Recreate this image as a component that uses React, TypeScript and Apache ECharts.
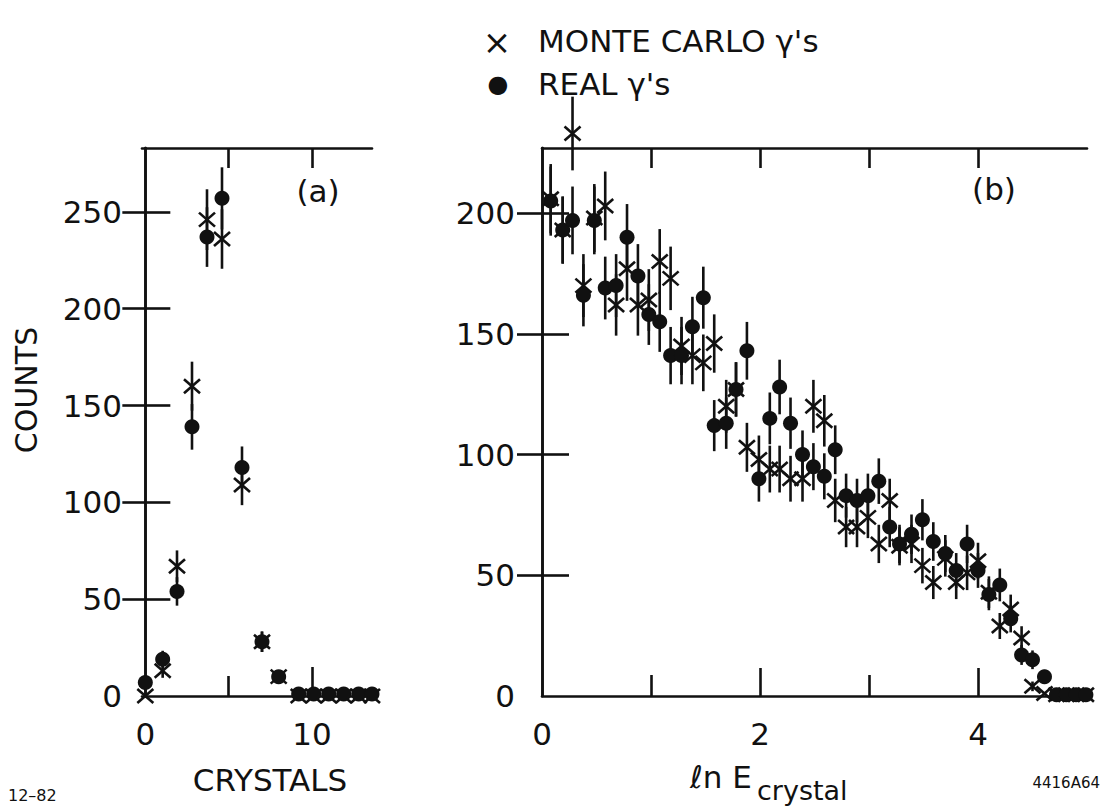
import React, { useEffect, useRef } from "react";
import * as echarts from "echarts";

// ---- Panel (a): counts vs number of crystals ----
const crystals = [0, 1.04, 1.9, 2.8, 3.7, 4.6, 5.8, 7.0, 8.0, 9.2, 10.1, 11.0, 11.9, 12.8, 13.6];
const crystalsMC = [0, 13, 67, 160, 246, 236, 109, 28, 10, 0, 0, 0, 0, 0, 0];
const crystalsReal = [7, 19, 54, 139, 237, 257, 118, 28, 10, 1, 1, 1, 1, 1, 1];

// ---- Panel (b): counts vs ln E_crystal ----
const lnE = [
  0.08, 0.19, 0.28, 0.38, 0.48, 0.58, 0.68, 0.78, 0.88, 0.98,
  1.08, 1.18, 1.28, 1.38, 1.48, 1.58, 1.69, 1.78, 1.88, 1.99,
  2.09, 2.18, 2.28, 2.39, 2.49, 2.59, 2.69, 2.79, 2.89, 2.99,
  3.09, 3.19, 3.28, 3.39, 3.49, 3.59, 3.70, 3.80, 3.90, 4.00,
  4.10, 4.20, 4.30, 4.40, 4.50, 4.61, 4.72, 4.81, 4.90, 4.99,
];
const lnEMC = [
  206, 193, 233, 170, 198, 203, 162, 177, 162, 164,
  180, 173, 145, 141, 138, 146, 120, 127, 103, 98,
  94, 94, 90, 90, 120, 114, 81, 70, 70, 74,
  63, 81, 62, 63, 54, 47, 57, 47, 51, 56,
  43, 29, 36, 24, 4, 1, 0.5, 0.5, 0.5, 0.5,
];
const lnEReal = [
  205, 193, 197, 166, 197, 169, 170, 190, 174, 158,
  155, 141, 141, 153, 165, 112, 113, 127, 143, 90,
  115, 128, 113, 100, 95, 91, 102, 83, 81, 83,
  89, 70, 63, 67, 73, 64, 59, 52, 63, 52,
  42, 46, 32, 17, 15, 8, 0.5, 0.5, 0.5, 0.5,
];

// ---- Tick labels ----
const aXLabels = [0, 10];
const aXMajorTicks = [10];
const aXMinorTicks = [5];
const aYLabels = [0, 50, 100, 150, 200, 250];
const aYTicks = [50, 100, 150, 200, 250];
const bXLabels = [0, 2, 4];
const bXMajorTicks = [2, 4];
const bXMinorTicks = [1, 3];
const bYLabels = [0, 50, 100, 150, 200];
const bYTicks = [50, 100, 150, 200];

const INK = "#111";
const FONT = "'DejaVu Sans', 'Liberation Sans', sans-serif";
const LW = 2.6;

function renderPoint(kind: "dot" | "cross") {
  return (params: any, api: any) => {
    const x = api.value(0);
    const y = api.value(1);
    const e = Math.sqrt(y);
    const p = api.coord([x, y]);
    const t = api.coord([x, y + e]);
    const b = api.coord([x, y - e]);
    const children: any[] = [];
    if (e > 1) {
      children.push({
        type: "line",
        shape: { x1: p[0], y1: t[1], x2: p[0], y2: b[1] },
        style: { stroke: INK, lineWidth: LW },
      });
    }
    if (kind === "dot") {
      children.push({
        type: "circle",
        shape: { cx: p[0], cy: p[1], r: 7.5 },
        style: { fill: INK },
      });
    } else {
      const sx = 8;
      const sy = 7;
      children.push(
        {
          type: "line",
          shape: { x1: p[0] - sx, y1: p[1] - sy, x2: p[0] + sx, y2: p[1] + sy },
          style: { stroke: INK, lineWidth: LW },
        },
        {
          type: "line",
          shape: { x1: p[0] - sx, y1: p[1] + sy, x2: p[0] + sx, y2: p[1] - sy },
          style: { stroke: INK, lineWidth: LW },
        }
      );
    }
    return { type: "group", children };
  };
}

function xAx(grid: number, min: number, max: number, position: string, opts: any) {
  return {
    gridIndex: grid,
    type: "value",
    min,
    max,
    position,
    splitLine: { show: false },
    axisLine: { show: opts.line, lineStyle: { color: INK, width: LW } },
    axisTick: {
      show: true,
      inside: true,
      length: opts.len,
      customValues: opts.ticks,
      lineStyle: { color: INK, width: LW },
    },
    axisLabel: opts.labels
      ? {
          show: true,
          customValues: opts.labels,
          margin: 22,
          fontSize: 31,
          fontFamily: FONT,
          color: INK,
        }
      : { show: false },
  };
}

function yAx(grid: number, max: number, position: string, opts: any) {
  return {
    gridIndex: grid,
    type: "value",
    min: 0,
    max,
    position,
    splitLine: { show: false },
    axisLine: { show: true, lineStyle: { color: INK, width: LW } },
    axisTick: {
      show: true,
      inside: true,
      length: opts.len,
      customValues: opts.ticks,
      lineStyle: { color: INK, width: LW },
    },
    axisLabel: opts.labels
      ? {
          show: true,
          customValues: opts.labels,
          margin: opts.margin,
          fontSize: 31,
          fontFamily: FONT,
          color: INK,
        }
      : { show: false },
  };
}

function txt(text: string, x: number, y: number, size: number, align = "left", extra: any = {}) {
  return {
    type: "text",
    x,
    y,
    ...extra,
    style: {
      text,
      fill: INK,
      fontSize: size,
      fontFamily: FONT,
      textAlign: align,
      textVerticalAlign: "middle",
    },
  };
}

export default function App() {
  const ref = useRef<HTMLDivElement>(null);

  useEffect(() => {
    if (!ref.current) return;
    const chart = echarts.init(ref.current, undefined, { renderer: "svg" });

    const aMin = -0.2;
    const aMax = 13.6;
    const option: any = {
      animation: false,
      backgroundColor: "#ffffff",
      grid: [
        { left: 142, top: 148, width: 230, height: 548 },
        { left: 542, top: 148, width: 545, height: 548 },
      ],
      xAxis: [
        xAx(0, aMin, aMax, "bottom", { line: true, len: 29, ticks: aXMajorTicks, labels: aXLabels }),
        xAx(0, aMin, aMax, "bottom", { line: false, len: 20, ticks: aXMinorTicks }),
        xAx(0, aMin, aMax, "top", { line: true, len: 20, ticks: [...aXMinorTicks, ...aXMajorTicks] }),
        xAx(1, 0, 5, "bottom", { line: true, len: 28, ticks: bXMajorTicks, labels: bXLabels }),
        xAx(1, 0, 5, "bottom", { line: false, len: 21, ticks: bXMinorTicks }),
        xAx(1, 0, 5, "top", { line: true, len: 20, ticks: [...bXMinorTicks, ...bXMajorTicks] }),
      ],
      yAxis: [
        yAx(0, 283, "left", { len: 25, ticks: aYTicks, labels: aYLabels, margin: 20 }),
        yAx(0, 283, "right", { len: 23, ticks: aYTicks }),
        yAx(1, 227, "left", { len: 27, ticks: bYTicks, labels: bYLabels, margin: 27 }),
        yAx(1, 227, "right", { len: 25, ticks: bYTicks }),
      ],
      series: [
        {
          type: "custom",
          name: "MONTE CARLO γ's (a)",
          xAxisIndex: 0,
          yAxisIndex: 0,
          clip: false,
          renderItem: renderPoint("cross"),
          data: crystals.map((c, i) => [c, crystalsMC[i]]),
        },
        {
          type: "custom",
          name: "REAL γ's (a)",
          xAxisIndex: 0,
          yAxisIndex: 0,
          clip: false,
          renderItem: renderPoint("dot"),
          data: crystals.map((c, i) => [c, crystalsReal[i]]),
        },
        {
          type: "custom",
          name: "MONTE CARLO γ's (b)",
          xAxisIndex: 3,
          yAxisIndex: 2,
          clip: false,
          renderItem: renderPoint("cross"),
          data: lnE.map((v, i) => [v, lnEMC[i]]),
        },
        {
          type: "custom",
          name: "REAL γ's (b)",
          xAxisIndex: 3,
          yAxisIndex: 2,
          clip: false,
          renderItem: renderPoint("dot"),
          data: lnE.map((v, i) => [v, lnEReal[i]]),
        },
      ],
      graphic: [
        txt("(a)", 318, 191, 31, "center"),
        txt("(b)", 994, 189, 31, "center"),
        txt("COUNTS", 26, 390, 30, "center", { rotation: Math.PI / 2 }),
        txt("CRYSTALS", 270, 780, 31, "center"),
        txt("ℓn E", 690, 777, 31, "left"),
        txt("crystal", 757, 790, 27, "left"),
        txt("12–82", 8, 795, 16, "left"),
        txt("4416A64", 1100, 783, 15, "right"),
        txt("×", 497, 42, 34, "center"),
        txt("MONTE CARLO γ's", 538, 41, 31, "left"),
        txt("●", 498, 84, 24, "center"),
        txt("REAL γ's", 538, 84, 31, "left"),
      ],
    };

    chart.setOption(option);
    return () => chart.dispose();
  }, []);

  return (
    <div
      ref={ref}
      style={{ position: "fixed", left: 0, top: 0, width: 1102, height: 806, background: "#fff" }}
    />
  );
}
